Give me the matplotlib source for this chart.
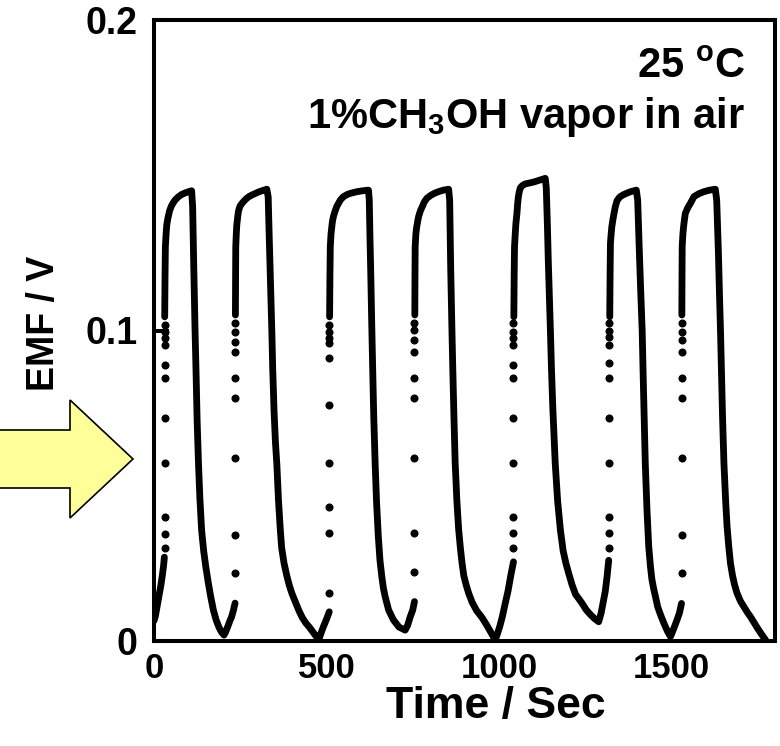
import numpy as np
import matplotlib
matplotlib.use("Agg")
import matplotlib.pyplot as plt
from matplotlib.patches import Polygon

plt.rcParams['font.family'] = ['Liberation Sans', 'DejaVu Sans']
plt.rcParams['font.weight'] = 'bold'
plt.rcParams['mathtext.fontset'] = 'custom'
plt.rcParams['mathtext.rm'] = 'Liberation Sans:bold'
plt.rcParams['mathtext.bf'] = 'Liberation Sans:bold'
plt.rcParams['mathtext.it'] = 'Liberation Sans:bold'

# ---- data: dense (continuously sampled) segments of the EMF trace ----
seg0_t = [0, 4, 8, 12, 16, 20, 24, 28, 30]
seg0_v = [0.0065, 0.008, 0.0105, 0.013, 0.0155, 0.018, 0.021, 0.0245, 0.027]

seg1_t = [31, 32, 33, 35, 37, 40, 45, 50, 55, 61, 70, 80, 90, 100, 109,
          112, 115, 119, 122, 125, 129, 133, 138, 144, 150, 157, 164, 172, 180, 188, 196, 203,
          208, 215, 220, 225, 230, 235]
seg1_v = [0.1044, 0.118, 0.127, 0.131, 0.134, 0.136, 0.1385, 0.140, 0.141, 0.142, 0.143, 0.1438, 0.1443, 0.1447, 0.1450,
          0.140, 0.122, 0.100, 0.086, 0.071, 0.057, 0.046, 0.0357, 0.029, 0.024, 0.019, 0.0145, 0.010, 0.0068, 0.0045, 0.0028, 0.0019,
          0.003, 0.005, 0.0065, 0.0078, 0.0098, 0.0122]

seg2_t = [236, 236.5, 237, 238.5, 240, 242.5, 245, 249, 254, 260, 268, 275, 283, 295, 305, 316, 327,
          331, 334, 337, 341.5, 344, 348, 352, 356, 361, 366, 370, 377, 385, 392, 399.5, 410, 420, 430, 440, 450, 460, 470, 478,
          484, 491, 500, 508]
seg2_v = [0.105, 0.118, 0.127, 0.131, 0.134, 0.1365, 0.1385, 0.140, 0.1408, 0.1416, 0.1425, 0.1431, 0.1436, 0.1442, 0.1447, 0.1451, 0.1455,
          0.143, 0.130, 0.118, 0.100, 0.088, 0.074, 0.064, 0.057, 0.045, 0.036, 0.030, 0.025, 0.021, 0.018, 0.0154, 0.0125, 0.0098, 0.0075, 0.0058, 0.0045, 0.003, 0.0015, 0.0005,
          0.0025, 0.0046, 0.007, 0.0094]

seg3_t = [509, 510, 511, 513, 515, 517, 520, 525, 530, 540, 549, 560, 570, 588, 605, 621.7,
          624, 626, 628, 631.5, 634, 637, 641, 645, 650, 655, 660, 665, 670, 680, 694, 710, 728,
          735, 742.7, 750, 755]
seg3_v = [0.1044, 0.118, 0.127, 0.131, 0.133, 0.135, 0.1367, 0.1385, 0.140, 0.142, 0.1431, 0.1438, 0.1442, 0.1447, 0.145, 0.1452,
          0.142, 0.130, 0.120, 0.100, 0.087, 0.072, 0.0572, 0.045, 0.034, 0.026, 0.021, 0.017, 0.0143, 0.010, 0.0068, 0.0045, 0.0035,
          0.005, 0.0078, 0.010, 0.0127]

seg4_t = [756, 756.5, 757, 759, 761, 764, 767, 772, 778, 784, 791, 803, 815, 827, 839, 854,
          857, 860, 863.6, 866, 869, 873, 878, 883, 888, 893, 898, 905, 912, 922, 935, 951, 965, 978, 989,
          996, 1003, 1010, 1018, 1026, 1034, 1042]
seg4_v = [0.105, 0.118, 0.127, 0.131, 0.133, 0.135, 0.1367, 0.1385, 0.140, 0.1415, 0.1426, 0.1436, 0.1443, 0.1448, 0.1452, 0.1455,
          0.142, 0.120, 0.100, 0.088, 0.074, 0.0572, 0.045, 0.036, 0.030, 0.025, 0.021, 0.018, 0.0154, 0.0125, 0.0098, 0.0075, 0.005, 0.0025, 0.0003,
          0.0025, 0.005, 0.008, 0.0121, 0.016, 0.021, 0.0255]

seg5_t = [1043, 1044, 1045, 1047, 1049, 1052, 1054, 1056, 1059, 1062, 1068, 1076, 1088, 1100, 1117, 1134,
          1137, 1140, 1143, 1146, 1149, 1152, 1156, 1163, 1170, 1178, 1186, 1194, 1202, 1212, 1222, 1232, 1241, 1253, 1265, 1277, 1289,
          1296, 1302, 1308, 1313, 1318]
seg5_v = [0.1044, 0.118, 0.127, 0.131, 0.1345, 0.1377, 0.1408, 0.1430, 0.1448, 0.1460, 0.1467, 0.1472, 0.1475, 0.1478, 0.1484, 0.1490,
          0.146, 0.135, 0.122, 0.111, 0.100, 0.088, 0.075, 0.0572, 0.045, 0.0357, 0.029, 0.025, 0.0218, 0.018, 0.015, 0.0135, 0.0121, 0.010, 0.0085, 0.0072, 0.0062,
          0.009, 0.0125, 0.016, 0.0205, 0.026]

seg6_t = [1321, 1322, 1323, 1325, 1327, 1330, 1333, 1337, 1342, 1350, 1360, 1370, 1381, 1398,
          1402, 1406, 1410, 1415, 1418, 1421, 1424, 1429, 1434, 1439, 1443, 1448, 1453.5, 1460, 1468, 1478, 1488, 1497,
          1503, 1510, 1516, 1523, 1529]
seg6_v = [0.1044, 0.118, 0.128, 0.131, 0.1334, 0.1356, 0.1375, 0.1398, 0.1418, 0.143, 0.1437, 0.1442, 0.1447, 0.1452,
          0.142, 0.128, 0.115, 0.100, 0.085, 0.071, 0.0572, 0.042, 0.0304, 0.024, 0.020, 0.017, 0.0143, 0.011, 0.0085, 0.0057, 0.0032, 0.0014,
          0.003, 0.005, 0.0068, 0.009, 0.0121]

seg7_t = [1530, 1530.5, 1531, 1533, 1535, 1537.5, 1540, 1547, 1555, 1565, 1580, 1594, 1610, 1627,
          1631, 1636, 1639, 1642, 1645, 1648, 1652, 1657, 1661, 1666, 1671, 1677, 1683, 1690, 1700, 1710, 1720, 1729, 1740, 1750, 1762, 1773]
seg7_v = [0.105, 0.118, 0.127, 0.131, 0.1334, 0.1357, 0.1377, 0.1395, 0.141, 0.1431, 0.1441, 0.1447, 0.1452, 0.1455,
          0.142, 0.125, 0.112, 0.100, 0.086, 0.072, 0.0572, 0.045, 0.037, 0.0304, 0.025, 0.021, 0.018, 0.0154, 0.0128, 0.011, 0.0092, 0.0078, 0.0058, 0.004, 0.002, 0.0003]

# ---- sparse samples during the fast rise after each gas switch ----
jump_times = [31, 235, 508, 755, 1042, 1320, 1529]
jump1_v = [0.0298, 0.0346, 0.040, 0.0572, 0.0717, 0.0846, 0.0889, 0.0953, 0.0975, 0.0996, 0.1018]
jump2_v = [0.0218, 0.0341, 0.0588, 0.0782, 0.0846, 0.0932, 0.0964, 0.0996, 0.1023]
jump3_v = [0.0154, 0.0347, 0.0433, 0.0572, 0.0760, 0.0910, 0.0959, 0.0975, 0.0996, 0.1018]
jump4_v = [0.0223, 0.0347, 0.0588, 0.0782, 0.0846, 0.0932, 0.0969, 0.1002, 0.1023]
jump5_v = [0.0298, 0.0347, 0.0400, 0.0572, 0.0717, 0.0846, 0.0889, 0.0953, 0.0975, 0.0996, 0.1023]
jump6_v = [0.0298, 0.0347, 0.0400, 0.0572, 0.0717, 0.0846, 0.0894, 0.0953, 0.0980, 0.1000, 0.1023]
jump7_v = [0.0218, 0.0341, 0.0588, 0.0782, 0.0846, 0.0932, 0.0969, 0.0996, 0.1023]

x_ticks = [0, 500, 1000, 1500]
x_ticklabels = ['0', '500', '1000', '1500']
y_ticks = [0, 0.1, 0.2]
y_ticklabels = ['0', '0.1', '0.2']

segments = [(seg0_t, seg0_v), (seg1_t, seg1_v), (seg2_t, seg2_v), (seg3_t, seg3_v),
            (seg4_t, seg4_v), (seg5_t, seg5_v), (seg6_t, seg6_v), (seg7_t, seg7_v)]
jumps = [jump1_v, jump2_v, jump3_v, jump4_v, jump5_v, jump6_v, jump7_v]

W, H = 780, 746
fig = plt.figure(figsize=(W / 100, H / 100), dpi=100)
ax = fig.add_axes([154 / W, 1 - 641 / H, (775 - 154) / W, (641 - 20) / H])

for t, v in segments:
    ax.plot(t, v, color='black', lw=4.9, solid_capstyle='round', solid_joinstyle='round', zorder=3)
for tj, vj in zip(jump_times, jumps):
    ax.plot([tj] * len(vj), vj, 'o', color='black', ms=5.8, mew=0, zorder=3)

ax.set_xlim(0, 1800)
ax.set_ylim(0, 0.2)
ax.set_xticks(x_ticks)
ax.set_xticklabels(x_ticklabels)
ax.set_yticks(y_ticks)
ax.set_yticklabels(y_ticklabels)
ax.tick_params(axis='x', direction='in', length=0, pad=8, labelsize=25)
ax.tick_params(axis='y', direction='in', length=11, width=2.9, pad=12, labelsize=27)
for lab in ax.get_xticklabels() + ax.get_yticklabels():
    lab.set_fontweight('bold')
for s in ax.spines.values():
    s.set_linewidth(2.9)

ax.set_xlabel('Time / Sec', fontsize=32, fontweight='bold', va='center')
ax.xaxis.set_label_coords(0.551, -0.105)
ax.set_ylabel('EMF / V', fontsize=27, fontweight='bold', va='center')
ax.yaxis.set_label_coords(-0.177, 0.512)

ax.text(0.952, 0.906, r'25 $^{\mathrm{o}}$C', transform=ax.transAxes,
        ha='right', va='baseline', fontsize=30, fontweight='bold')
ax.text(0.952, 0.826, r'1%CH$_{\mathrm{3}}$OH vapor in air', transform=ax.transAxes,
        ha='right', va='baseline', fontsize=30, fontweight='bold')

# decorative yellow arrow on the left (figure pixels)
arrow_px = [(-2, 430), (70, 430), (70, 400), (133, 459), (70, 518), (70, 488), (-2, 488)]
arrow = Polygon([(x / W, 1 - y / H) for x, y in arrow_px], closed=True,
                transform=fig.transFigure, facecolor='#FFFF99', edgecolor='black',
                lw=1.2, clip_on=False)
fig.patches.append(arrow)

fig.savefig('out.png', dpi=100)
